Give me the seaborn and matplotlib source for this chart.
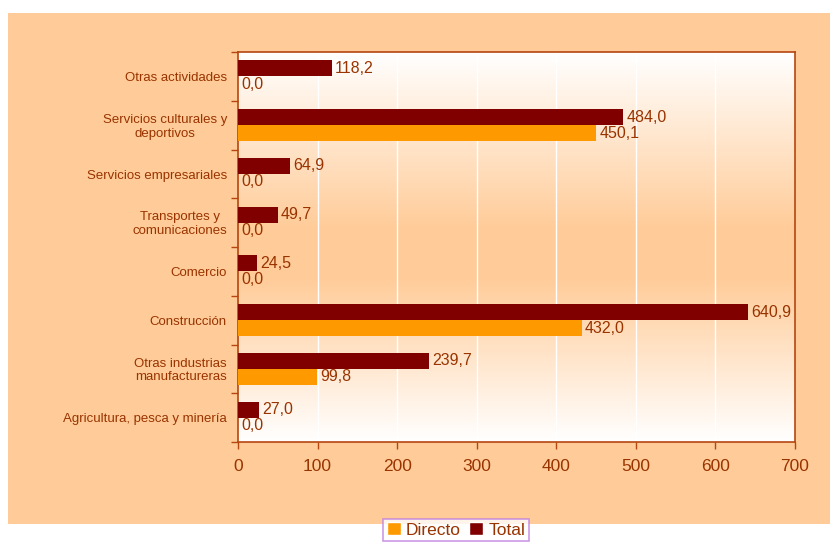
import numpy as np
import pandas as pd
import matplotlib
matplotlib.use("Agg")
import matplotlib.pyplot as plt
import matplotlib.transforms as mtransforms
import seaborn as sns
from matplotlib.colors import LinearSegmentedColormap
from matplotlib.patches import Rectangle, Patch

# Data
categories = ["Otras actividades", "Servicios culturales y\ndeportivos",
              "Servicios empresariales", "Transportes y\ncomunicaciones",
              "Comercio", "Construcción", "Otras industrias\nmanufactureras",
              "Agricultura, pesca y minería"]
directo = [0.0, 450.1, 0.0, 0.0, 0.0, 432.0, 99.8, 0.0]
total = [118.2, 484.0, 64.9, 49.7, 24.5, 640.9, 239.7, 27.0]
xticks = [0, 100, 200, 300, 400, 500, 600, 700]

df = pd.DataFrame({
    "cat": categories * 2,
    "serie": ["Total"] * len(categories) + ["Directo"] * len(categories),
    "valor": total + directo,
})

text_col = "#993300"
edge_col = "#B5460F"
peach = "#FFCC99"
colors = {"Directo": "#FF9900", "Total": "#800000"}

sns.set_style("white")
plt.rcParams['font.family'] = ['Liberation Sans', 'DejaVu Sans']

fig = plt.figure(figsize=(8.3, 5.42), dpi=100)
fig.patch.set_facecolor("white")
fig.patches.append(Rectangle((8 / 830, 1 - 524 / 542), 822 / 830, 511 / 542,
                             transform=fig.transFigure, facecolor=peach,
                             edgecolor="none", zorder=-10))

ax = fig.add_axes([238 / 830, 1 - 442 / 542, 557 / 830, 390 / 542])
ax.set_facecolor("white")

# vertical gradient: white at top and bottom, peach in the middle
cmap = LinearSegmentedColormap.from_list("g", [(0, "#FFFFFF"), (0.42, peach),
                                               (0.55, peach), (1, "#FFFFFF")])
grad = np.linspace(0, 1, 256).reshape(-1, 1)
ax.imshow(grad, aspect="auto", cmap=cmap, extent=[0, 1, 0, 1], origin="lower",
          transform=ax.transAxes, zorder=0)

sns.barplot(data=df, y="cat", x="valor", hue="serie", hue_order=["Total", "Directo"],
            order=categories, palette=colors, orient="h", width=0.66,
            saturation=1, linewidth=0, ax=ax, legend=False, zorder=3)

ax.set_xlim(0, 700)
ax.set_ylim(len(categories) - 0.5, -0.5)
ax.set_xticks(xticks)
ax.set_xticklabels([str(t) for t in xticks], fontsize=12.5, color=text_col)
ax.set_xlabel("")
ax.set_ylabel("")
ax.tick_params(axis="x", length=5, width=1, color=edge_col, pad=7, direction="out",
               bottom=True)

# y ticks at category boundaries, category names drawn as centred text
ax.set_yticks(np.arange(len(categories) + 1) - 0.5)
ax.set_yticklabels([])
ax.tick_params(axis="y", length=5, width=1, color=edge_col, direction="out", left=True)
lab_tr = mtransforms.offset_copy(ax.get_yaxis_transform(), fig=fig, x=-8, y=-1.2, units="points")
for i, c in enumerate(categories):
    ax.text(0, i, c, transform=lab_tr, ha="right", va="center", multialignment="center",
            fontsize=9.5, color=text_col, linespacing=1.2)

for x in xticks[1:-1]:
    ax.axvline(x, color="white", lw=1, zorder=1)

for s in ax.spines.values():
    s.set_color(edge_col)
    s.set_linewidth(1.2)
    s.set_visible(True)

# data labels
bw = 0.33
for i, (d, t) in enumerate(zip(directo, total)):
    ax.text(t + 4, i - bw / 2, f"{t:.1f}".replace(".", ","), va="center", ha="left",
            fontsize=11.5, color=text_col, zorder=4)
    ax.text(d + 4, i + bw / 2, f"{d:.1f}".replace(".", ","), va="center", ha="left",
            fontsize=11.5, color=text_col, zorder=4)

handles = [Patch(facecolor=colors["Directo"], label="Directo"),
           Patch(facecolor=colors["Total"], label="Total")]
leg = fig.legend(handles=handles, loc="center", bbox_to_anchor=(456 / 830, 1 - 530 / 542),
                 ncol=2, frameon=True, fontsize=12.5, handlelength=0.8, handleheight=0.8,
                 handletextpad=0.3, columnspacing=0.5, borderpad=0.2, fancybox=False,
                 labelcolor=text_col)
leg.get_frame().set_edgecolor("#C080E0")
leg.get_frame().set_linewidth(1.2)

fig.savefig("out.png", dpi=100, facecolor="white")
